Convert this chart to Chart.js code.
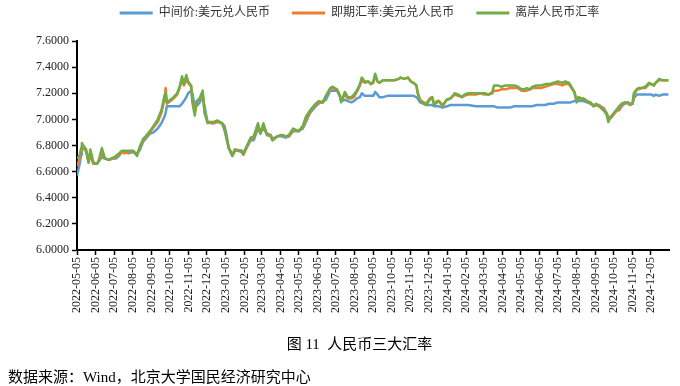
<!DOCTYPE html>
<html><head><meta charset="utf-8">
<script src="https://cdn.jsdelivr.net/npm/chart.js@4.4.1/dist/chart.umd.min.js"></script>
<style>html,body{margin:0;padding:0;background:#fff;}#wrap{width:680px;height:386px;}</style>
</head><body><div id="wrap"><canvas id="c" width="680" height="386"></canvas></div>
<script>
const seriesNames = ['中间价:美元兑人民币', '即期汇率:美元兑人民币', '离岸人民币汇率'];
const captionText = '图 11  人民币三大汇率';
const sourceText = '数据来源：Wind，北京大学国民经济研究中心';

const dates = [
'2022-05-05','2022-05-09','2022-05-12','2022-05-13','2022-05-18','2022-05-20','2022-05-24','2022-05-27','2022-06-01','2022-06-07',
'2022-06-10','2022-06-15','2022-06-20','2022-06-27','2022-07-01','2022-07-08','2022-07-13','2022-07-18','2022-07-22','2022-07-29',
'2022-08-05','2022-08-12','2022-08-17','2022-08-22','2022-08-26','2022-09-02','2022-09-08','2022-09-15','2022-09-21','2022-09-26',
'2022-09-28','2022-09-30','2022-10-11','2022-10-17','2022-10-21','2022-10-25','2022-10-28','2022-11-01','2022-11-04','2022-11-09',
'2022-11-11','2022-11-15','2022-11-18','2022-11-23','2022-11-28','2022-12-01','2022-12-06','2022-12-12','2022-12-16','2022-12-22',
'2022-12-30','2023-01-03','2023-01-06','2023-01-10','2023-01-16','2023-01-20','2023-01-31','2023-02-03','2023-02-09','2023-02-15',
'2023-02-20','2023-02-27','2023-03-03','2023-03-08','2023-03-14','2023-03-20','2023-03-23','2023-03-31','2023-04-07','2023-04-14',
'2023-04-19','2023-04-26','2023-05-05','2023-05-12','2023-05-17','2023-05-24','2023-05-31','2023-06-07','2023-06-14','2023-06-19',
'2023-06-26','2023-06-30','2023-07-07','2023-07-12','2023-07-14','2023-07-20','2023-07-25','2023-07-31','2023-08-04','2023-08-09',
'2023-08-14','2023-08-17','2023-08-22','2023-08-28','2023-09-01','2023-09-05','2023-09-08','2023-09-12','2023-09-15','2023-09-21',
'2023-09-28','2023-10-10','2023-10-17','2023-10-20','2023-10-26','2023-11-01','2023-11-06','2023-11-10','2023-11-15','2023-11-17',
'2023-11-21','2023-11-27','2023-12-01','2023-12-07','2023-12-11','2023-12-14','2023-12-19','2023-12-22','2023-12-28','2024-01-04',
'2024-01-10','2024-01-17','2024-01-23','2024-01-29','2024-02-02','2024-02-08','2024-02-21','2024-02-28','2024-03-06','2024-03-13',
'2024-03-19','2024-03-22','2024-03-28','2024-04-03','2024-04-10','2024-04-17','2024-04-24','2024-04-30','2024-05-06','2024-05-10',
'2024-05-15','2024-05-20','2024-05-24','2024-05-31','2024-06-07','2024-06-14','2024-06-21','2024-06-28','2024-07-05','2024-07-12',
'2024-07-17','2024-07-23','2024-07-26','2024-08-01','2024-08-05','2024-08-08','2024-08-13','2024-08-16','2024-08-22','2024-08-28',
'2024-09-02','2024-09-06','2024-09-11','2024-09-18','2024-09-23','2024-09-26','2024-09-30','2024-10-09','2024-10-14','2024-10-18',
'2024-10-23','2024-10-28','2024-11-01','2024-11-05','2024-11-07','2024-11-12','2024-11-15','2024-11-20','2024-11-26','2024-12-02',
'2024-12-06','2024-12-10','2024-12-13','2024-12-19','2024-12-24','2024-12-30','2025-01-03'
];

const midRate = [
6.57,6.65,6.73,6.77,6.78,6.75,6.69,6.72,6.66,6.66,
6.68,6.71,6.70,6.69,6.70,6.70,6.72,6.75,6.75,6.74,
6.75,6.74,6.77,6.83,6.85,6.89,6.90,6.93,6.97,7.02,
7.05,7.10,7.10,7.10,7.10,7.12,7.14,7.17,7.20,7.22,
7.20,7.10,7.10,7.13,7.18,7.10,6.98,6.97,6.97,6.99,
6.97,6.95,6.89,6.78,6.73,6.77,6.75,6.73,6.79,6.84,
6.84,6.93,6.90,6.93,6.89,6.88,6.85,6.87,6.87,6.86,
6.87,6.91,6.91,6.93,6.98,7.05,7.09,7.12,7.14,7.15,
7.22,7.22,7.22,7.18,7.14,7.15,7.14,7.13,7.14,7.16,
7.17,7.20,7.18,7.18,7.18,7.18,7.21,7.19,7.17,7.17,
7.18,7.18,7.18,7.18,7.18,7.18,7.18,7.18,7.17,7.16,
7.13,7.12,7.11,7.11,7.11,7.10,7.10,7.10,7.09,7.10,
7.11,7.11,7.11,7.11,7.11,7.11,7.10,7.10,7.10,7.10,
7.10,7.10,7.09,7.09,7.09,7.09,7.10,7.10,7.10,7.10,
7.10,7.10,7.10,7.11,7.11,7.11,7.12,7.12,7.13,7.13,
7.13,7.13,7.13,7.14,7.14,7.14,7.14,7.14,7.13,7.12,
7.11,7.11,7.10,7.09,7.05,7.02,7.01,7.07,7.07,7.10,
7.12,7.13,7.11,7.12,7.16,7.19,7.19,7.19,7.19,7.19,
7.19,7.18,7.19,7.18,7.19,7.19,7.19
];

const spotRate = [
6.64,6.70,6.76,6.79,6.77,6.76,6.67,6.74,6.66,6.66,
6.68,6.74,6.70,6.69,6.70,6.71,6.73,6.75,6.74,6.75,
6.76,6.73,6.79,6.84,6.86,6.90,6.94,6.98,7.05,7.15,
7.24,7.12,7.16,7.19,7.24,7.31,7.26,7.30,7.28,7.25,
7.16,7.05,7.13,7.16,7.20,7.06,6.97,6.98,6.97,6.98,
6.97,6.92,6.86,6.78,6.72,6.77,6.76,6.73,6.79,6.85,
6.86,6.96,6.89,6.96,6.88,6.88,6.84,6.87,6.88,6.87,
6.87,6.92,6.91,6.94,7.00,7.06,7.10,7.13,7.13,7.18,
7.23,7.24,7.23,7.18,7.14,7.19,7.16,7.16,7.17,7.21,
7.26,7.30,7.28,7.29,7.27,7.28,7.33,7.29,7.28,7.30,
7.30,7.30,7.31,7.32,7.31,7.32,7.29,7.28,7.26,7.21,
7.15,7.13,7.12,7.16,7.17,7.12,7.14,7.14,7.10,7.15,
7.16,7.19,7.18,7.17,7.18,7.19,7.19,7.20,7.19,7.19,
7.20,7.22,7.22,7.23,7.23,7.24,7.24,7.24,7.22,7.22,
7.22,7.23,7.24,7.24,7.24,7.25,7.26,7.27,7.27,7.26,
7.27,7.27,7.25,7.21,7.15,7.17,7.16,7.16,7.14,7.13,
7.10,7.11,7.11,7.08,7.05,7.01,7.01,7.06,7.08,7.11,
7.13,7.12,7.11,7.12,7.18,7.23,7.23,7.24,7.24,7.27,
7.27,7.26,7.28,7.30,7.30,7.30,7.30
];

const cnhRate = [
6.70,6.72,6.78,6.82,6.78,6.77,6.67,6.77,6.67,6.66,
6.69,6.78,6.70,6.69,6.70,6.72,6.74,6.76,6.76,6.76,
6.76,6.72,6.80,6.85,6.87,6.91,6.95,7.00,7.07,7.18,
7.20,7.13,7.17,7.20,7.25,7.33,7.27,7.34,7.29,7.26,
7.13,7.03,7.14,7.16,7.22,7.05,6.98,6.98,6.98,6.99,
6.97,6.92,6.86,6.78,6.72,6.76,6.76,6.74,6.80,6.86,
6.87,6.97,6.89,6.97,6.88,6.87,6.84,6.87,6.88,6.87,
6.88,6.93,6.91,6.95,7.02,7.07,7.11,7.14,7.13,7.18,
7.24,7.25,7.23,7.18,7.13,7.21,7.17,7.17,7.19,7.22,
7.27,7.32,7.29,7.29,7.27,7.29,7.35,7.29,7.28,7.30,
7.30,7.30,7.31,7.32,7.31,7.32,7.29,7.28,7.26,7.20,
7.14,7.12,7.11,7.15,7.17,7.11,7.13,7.14,7.11,7.15,
7.16,7.20,7.19,7.17,7.19,7.20,7.20,7.20,7.20,7.19,
7.21,7.26,7.26,7.25,7.26,7.26,7.26,7.25,7.23,7.23,
7.24,7.23,7.25,7.26,7.26,7.27,7.27,7.28,7.29,7.28,
7.29,7.28,7.26,7.21,7.13,7.17,7.15,7.16,7.14,7.12,
7.10,7.12,7.10,7.07,7.04,6.98,7.02,7.07,7.10,7.12,
7.13,7.13,7.12,7.12,7.20,7.23,7.24,7.24,7.25,7.28,
7.27,7.26,7.28,7.31,7.30,7.30,7.30
];

const tickLabels = [
'2022-05-05','2022-06-05','2022-07-05','2022-08-05','2022-09-05','2022-10-05','2022-11-05','2022-12-05',
'2023-01-05','2023-02-05','2023-03-05','2023-04-05','2023-05-05','2023-06-05','2023-07-05','2023-08-05',
'2023-09-05','2023-10-05','2023-11-05','2023-12-05','2024-01-05','2024-02-05','2024-03-05','2024-04-05',
'2024-05-05','2024-06-05','2024-07-05','2024-08-05','2024-09-05','2024-10-05','2024-11-05','2024-12-05'
];

const yMin = 6.0, yMax = 7.6, yStep = 0.2;
const xEndDate = '2025-01-04';

const DAY = 86400000;
function dayIndex(s){ const p = s.split('-').map(Number); return (Date.UTC(p[0],p[1]-1,p[2]) - Date.UTC(2022,4,5)) / DAY; }
function pts(vals){ return dates.map((d,i)=>({x: dayIndex(d), y: vals[i]})); }

const colors = ['#5B9BD5', '#ED7D31', '#70AD47'];
const FONT = '"Liberation Serif", "Noto Sans CJK SC", serif';
const CENTER_SHIFT = 21;

const boxShift = { id:'boxShift', afterLayout(chart){
  const lg = chart.legend;
  if (lg){ lg.top -= 12; lg.bottom -= 12; lg.left += CENTER_SHIFT; lg.right += CENTER_SHIFT; }
  const tb = chart.titleBlock;
  if (tb){ tb.left += CENTER_SHIFT; tb.right += CENTER_SHIFT; }
} };
const sourceNote = { id:'sourceNote', afterDraw(chart){
  const c = chart.ctx; c.save();
  c.font = '15px ' + FONT; c.fillStyle = '#000'; c.textBaseline = 'middle'; c.textAlign = 'left';
  c.fillText(sourceText, 8, 378); c.restore(); } };

new Chart(document.getElementById('c'), {
  type: 'line',
  data: {
    datasets: [
      { label: seriesNames[0], data: pts(midRate), borderColor: colors[0], backgroundColor: colors[0], order: 3 },
      { label: seriesNames[1], data: pts(spotRate), borderColor: colors[1], backgroundColor: colors[1], order: 2 },
      { label: seriesNames[2], data: pts(cnhRate), borderColor: colors[2], backgroundColor: colors[2], order: 1 }
    ]
  },
  options: {
    responsive: false, animation: false, devicePixelRatio: 1,
    elements: { point: { radius: 0 }, line: { borderWidth: 2.5, tension: 0, borderJoinStyle: 'round' } },
    layout: { padding: { left: 8, right: 11, top: -3, bottom: 32 } },
    plugins: {
      tooltip: { enabled: false },
      legend: {
        position: 'top', align: 'center',
        labels: {
          boxWidth: 33, boxHeight: 3, padding: 22, color: '#333',
          font: { size: 12, family: FONT },
          sort: (a,b) => a.datasetIndex - b.datasetIndex,
          generateLabels: (chart) => Chart.defaults.plugins.legend.labels.generateLabels(chart).map(l => Object.assign(l, { lineWidth: 0 }))
        }
      },
      title: {
        display: true, text: captionText, position: 'bottom', align: 'center', color: '#000',
        font: { size: 15, family: FONT, weight: 'normal' }, padding: { top: 14, bottom: 0 }
      }
    },
    scales: {
      x: {
        type: 'linear', min: 0, max: dayIndex(xEndDate),
        afterFit: (s) => { s.height = 72; },
        afterBuildTicks: (s) => { s.ticks = tickLabels.map(l => ({ value: dayIndex(l) })); },
        ticks: {
          autoSkip: false, minRotation: 90, maxRotation: 90, padding: 2, color: '#222',
          font: { size: 12, family: FONT },
          callback: (v, i) => tickLabels[i]
        },
        grid: { drawOnChartArea: false, drawTicks: true, tickLength: 5, tickColor: '#000', tickWidth: 1.5 },
        border: { display: true, color: '#000', width: 2 }
      },
      y: {
        min: yMin, max: yMax,
        afterFit: (s) => { s.width = 69; },
        ticks: { stepSize: yStep, padding: 3, color: '#222', font: { size: 12, family: FONT },
          callback: (v) => Number(v).toFixed(4) },
        grid: { drawOnChartArea: false, drawTicks: true, tickLength: 5, tickColor: '#000', tickWidth: 1.5 },
        border: { display: true, color: '#000', width: 2 }
      }
    }
  },
  plugins: [boxShift, sourceNote]
});
</script>
</body></html>
